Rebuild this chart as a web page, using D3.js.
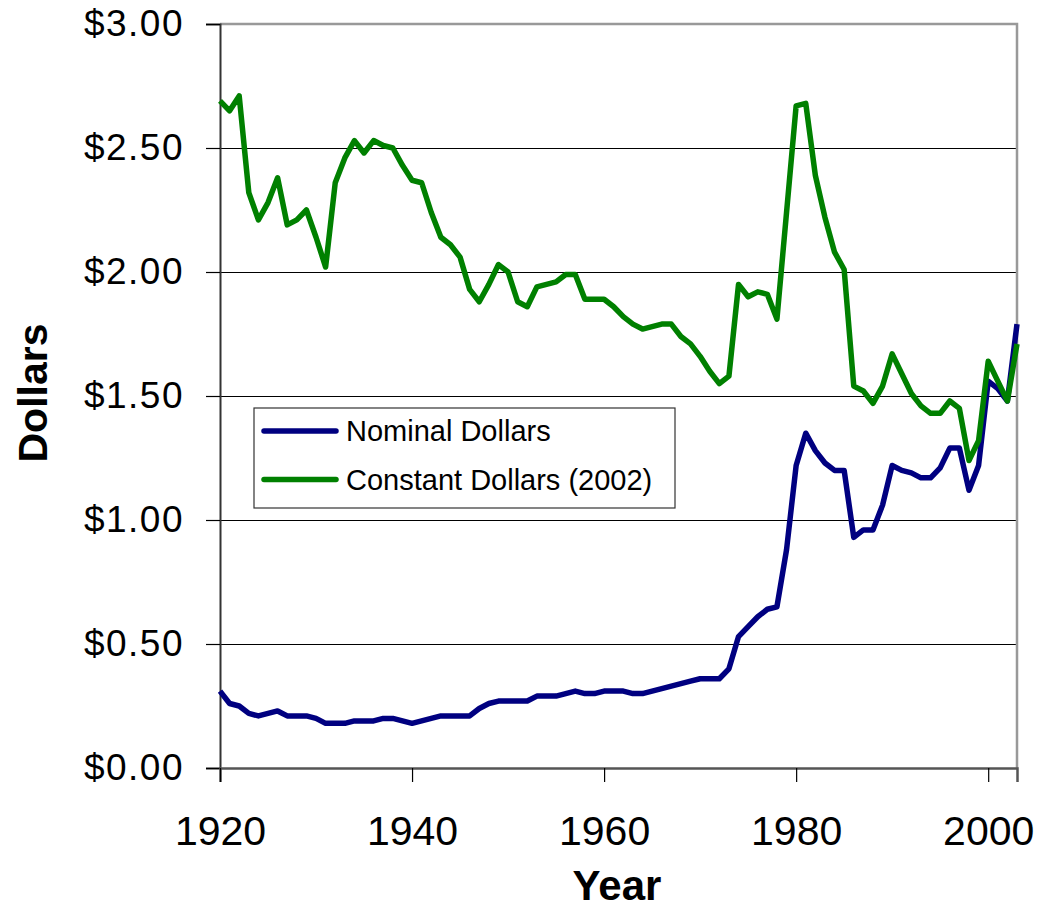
<!DOCTYPE html>
<html>
<head>
<meta charset="utf-8">
<script src="https://cdn.jsdelivr.net/npm/d3@7"></script>
<style>
  body { margin: 0; background: #fff; }
  text { font-family: Arial, "Liberation Sans", sans-serif; }
</style>
</head>
<body>
<div id="my_dataviz"></div>
<script>
// gasoline prices per gallon
const years = d3.range(1920, 2004);
const nominal = [
  0.31, 0.26, 0.25, 0.22, 0.21, 0.22, 0.23, 0.21, 0.21, 0.21,
  0.20, 0.18, 0.18, 0.18, 0.19, 0.19, 0.19, 0.20, 0.20, 0.19,
  0.18, 0.19, 0.20, 0.21, 0.21, 0.21, 0.21, 0.24, 0.26, 0.27,
  0.27, 0.27, 0.27, 0.29, 0.29, 0.29, 0.30, 0.31, 0.30, 0.30,
  0.31, 0.31, 0.31, 0.30, 0.30, 0.31, 0.32, 0.33, 0.34, 0.35,
  0.36, 0.36, 0.36, 0.40, 0.53, 0.57, 0.61, 0.64, 0.65, 0.88,
  1.22, 1.35, 1.28, 1.23, 1.20, 1.20, 0.93, 0.96, 0.96, 1.06,
  1.22, 1.20, 1.19, 1.17, 1.17, 1.21, 1.29, 1.29, 1.12, 1.22,
  1.56, 1.53, 1.48, 1.79
];
const constant = [
  2.69, 2.65, 2.71, 2.32, 2.21, 2.28, 2.38, 2.19, 2.21, 2.25,
  2.14, 2.02, 2.36, 2.46, 2.53, 2.48, 2.53, 2.51, 2.50, 2.43,
  2.37, 2.36, 2.24, 2.14, 2.11, 2.06, 1.93, 1.88, 1.95, 2.03,
  2.00, 1.88, 1.86, 1.94, 1.95, 1.96, 1.99, 1.99, 1.89, 1.89,
  1.89, 1.86, 1.82, 1.79, 1.77, 1.78, 1.79, 1.79, 1.74, 1.71,
  1.66, 1.60, 1.55, 1.58, 1.95, 1.90, 1.92, 1.91, 1.81, 2.24,
  2.67, 2.68, 2.39, 2.22, 2.08, 2.01, 1.54, 1.52, 1.47, 1.54,
  1.67, 1.59, 1.51, 1.46, 1.43, 1.43, 1.48, 1.45, 1.24, 1.32,
  1.64, 1.56, 1.48, 1.71
];
const xTicks = [1920, 1940, 1960, 1980, 2000];
const yTicks = [0, 0.5, 1, 1.5, 2, 2.5, 3];
const seriesNames = ["Nominal Dollars", "Constant Dollars (2002)"];
const seriesColors = ["#000080", "#008000"];

function init() {
  const width = 1047,
    height = 912;
  const left = 220, right = 1017, top = 24, bottom = 768;

  const svg = d3.select("#my_dataviz")
    .append("svg")
    .attr("width", width)
    .attr("height", height);

  const x = d3.scaleLinear().domain([1920, 2003]).range([left, right]);
  const y = d3.scaleLinear().domain([0, 3]).range([bottom, top]);

  // horizontal grid lines, crisp and black
  svg.append("g")
    .selectAll("line")
    .data(yTicks.slice(1, -1))
    .join("line")
    .attr("x1", left).attr("x2", right)
    .attr("y1", d => Math.round(y(d)) + 0.5).attr("y2", d => Math.round(y(d)) + 0.5)
    .attr("stroke", "#000")
    .attr("stroke-width", 1)
    .attr("shape-rendering", "crispEdges");

  // plot area border (top / right)
  svg.append("path")
    .attr("d", `M${left},${top}H${right}V${bottom}`)
    .attr("fill", "none")
    .attr("stroke", "#999")
    .attr("stroke-width", 2.5);

  // y axis
  const yAxis = svg.append("g")
    .attr("transform", `translate(${left},0)`)
    .call(d3.axisLeft(y).tickValues(yTicks).tickSize(14).tickPadding(22)
      .tickFormat(d => "$" + d3.format(".2f")(d)));
  yAxis.select(".domain").attr("stroke", "#333").attr("stroke-width", 2);
  yAxis.selectAll(".tick line").attr("stroke", "#000").attr("stroke-width", 1.2);
  yAxis.selectAll(".tick text")
    .attr("fill", "#000")
    .style("font-size", "37px")
    .style("letter-spacing", "1.5px");

  // x axis
  const xAxis = svg.append("g")
    .attr("transform", `translate(0,${bottom})`)
    .call(d3.axisBottom(x).tickValues(xTicks).tickSize(14).tickPadding(34)
      .tickFormat(d3.format("d")));
  xAxis.select(".domain").attr("stroke", "#555").attr("stroke-width", 2.5);
  xAxis.selectAll(".tick line").attr("stroke", "#000").attr("stroke-width", 1.2);
  xAxis.selectAll(".tick text")
    .attr("fill", "#000")
    .style("font-size", "41px");

  // the two series, constant drawn on top
  const series = [nominal, constant];
  const line = d3.line()
    .x((d, i) => x(years[i]))
    .y(d => y(d));

  svg.selectAll(".series")
    .data(series)
    .join("path")
    .attr("class", "series")
    .attr("d", line)
    .attr("fill", "none")
    .attr("stroke", (d, i) => seriesColors[i])
    .attr("stroke-width", 5.5)
    .attr("stroke-linejoin", "round");

  // axis titles
  svg.append("text")
    .attr("x", 617)
    .attr("y", 900)
    .attr("text-anchor", "middle")
    .style("font-size", "42px")
    .style("font-weight", "bold")
    .text("Year");

  svg.append("text")
    .attr("transform", "translate(47,393) rotate(-90)")
    .attr("text-anchor", "middle")
    .style("font-size", "41px")
    .style("font-weight", "bold")
    .text("Dollars");

  // legend
  const legend = svg.append("g").attr("transform", "translate(254,408)");
  legend.append("rect")
    .attr("width", 421).attr("height", 100)
    .attr("fill", "#fff")
    .attr("stroke", "#333")
    .attr("stroke-width", 1.2);

  const items = legend.selectAll(".item")
    .data(seriesNames)
    .join("g")
    .attr("class", "item")
    .attr("transform", (d, i) => `translate(0,${23 + i * 48.5})`);
  items.append("line")
    .attr("x1", 10).attr("x2", 82)
    .attr("stroke", (d, i) => seriesColors[i])
    .attr("stroke-width", 5.5)
    .attr("stroke-linecap", "round");
  items.append("text")
    .attr("x", 92)
    .attr("dy", "0.35em")
    .style("font-size", "29px")
    .text(d => d);
}

window.onload = init;
</script>
</body>
</html>
